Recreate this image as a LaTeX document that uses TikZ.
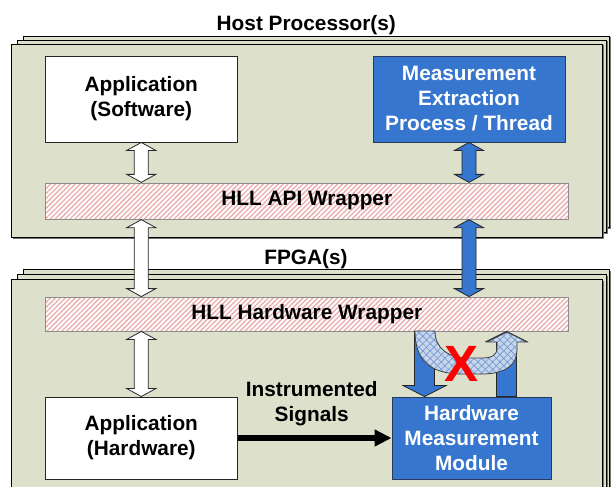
\documentclass[tikz,border=0pt]{standalone}
\usepackage{fontspec}
\setmainfont{Liberation Sans}
\usetikzlibrary{calc,arrows.meta,patterns.meta}
\definecolor{panel}{RGB}{221,225,203}
\definecolor{mblue}{RGB}{54,118,206}
\definecolor{mborder}{RGB}{40,60,90}
\definecolor{hatchpink}{RGB}{236,172,172}
\definecolor{ufill}{RGB}{198,214,236}
\definecolor{uline}{RGB}{118,152,210}
\newcommand\Upath{(415,331) .. controls (415,360) and (430,374) .. (462,374) -- (482,374) .. controls (505,374) and (517,365) .. (517,350) -- (517,342) -- (527,342) -- (507,332) -- (487,342) -- (497,342) -- (497,348) .. controls (497,355) and (492,358) .. (482,358) -- (468,358) .. controls (448,358) and (435,348) .. (435,331) -- cycle}
\begin{document}
\begin{tikzpicture}[x=1pt,y=-1pt,
  txt/.style={font=\fontsize{20.8}{25}\selectfont\bfseries, align=center},
  box/.style={txt, draw=black!85, line width=0.9, fill=white, inner sep=0},
  bbox/.style={box, fill=mblue, draw=mborder, text=white},
  wrap/.style={txt, draw=black!45, line width=0.8, inner sep=0,
    preaction={fill=white},
    pattern={Lines[angle=45,distance=3.5pt,line width=1.3pt]}, pattern color=hatchpink},
  layer/.style={fill=panel, draw=black, line width=0.9},
  lshadow/.style={fill=black!55},
  dbl/.style={draw=black!85, line width=0.8, line join=miter,
    to path={let \p1=(\tikztostart), \p2=(\tikztotarget) in
      (\x1,\y1) -- (\x1+14.5pt,\y1-8pt) -- (\x1+7pt,\y1-8pt) -- (\x1+7pt,\y2+8pt)
      -- (\x1+14.5pt,\y2+8pt) -- (\x1,\y2) -- (\x1-14.5pt,\y2+8pt) -- (\x1-7pt,\y2+8pt)
      -- (\x1-7pt,\y1-8pt) -- (\x1-14.5pt,\y1-8pt) -- cycle}},
  downarr/.style={draw=black!85, line width=0.8, fill=mblue,
    to path={let \p1=(\tikztostart), \p2=(\tikztotarget) in
      (\x1-10pt,\y1) -- (\x1-10pt,\y2+11pt) -- (\x1-21.5pt,\y2+11pt) -- (\x1,\y2)
      -- (\x1+21.5pt,\y2+11pt) -- (\x1+10pt,\y2+11pt) -- (\x1+10pt,\y1) -- cycle}},
  uparr/.style={draw=black!85, line width=0.8, fill=mblue,
    to path={let \p1=(\tikztostart), \p2=(\tikztotarget) in
      (\x1-10pt,\y1) -- (\x1-10pt,\y2-10pt) -- (\x1-20pt,\y2-10pt) -- (\x1,\y2)
      -- (\x1+20pt,\y2-10pt) -- (\x1+10pt,\y2-10pt) -- (\x1+10pt,\y1) -- cycle}}
]
\useasboundingbox (0,0) rectangle (611,487);
\clip (0,0) rectangle (611,487);
\fill[white] (0,0) rectangle (611,487);
% stacked panels
\foreach \l/\t/\r/\b in {23/36/609/227, 17/40/606/232, 11/44/602/237,
                         23/269/609/520, 17/274/606/525, 11/279/602/530} {
  \fill[lshadow] (\l+1.5,\t+1.5) rectangle (\r+1.5,\b+1.5);
  \filldraw[layer] (\l,\t) rectangle (\r,\b);
}
\node[txt, anchor=base] (hostlbl) at (306.3,31) {Host Processor(s)};
\node[txt, anchor=base] (fpgalbl) at (306,264.5) {FPGA(s)};
% boxes
\node[box, minimum width=191.5, minimum height=86] (appsw) at (141.3,99) {Application\\(Software)};
\node[bbox, minimum width=192, minimum height=86] (meas) at (469,99) {Measurement\\Extraction\\Process / Thread};
\node[wrap, minimum width=522.4, minimum height=36] (apiw) at (306.8,201) {HLL API Wrapper};
\node[wrap, minimum width=522.4, minimum height=34] (hww) at (306.8,314) {HLL Hardware Wrapper};
\node[box, minimum width=191.5, minimum height=82] (apphw) at (141.3,438) {Application\\(Hardware)};
\node[bbox, minimum width=159, minimum height=82] (hmm) at (471.5,438) {Hardware\\Measurement\\Module};
\node[txt] (sig) at (311.7,404) {Instrumented\\Signals};
% connector end points
\coordinate (a1) at (appsw.south |- apiw.north);
\coordinate (a2) at (appsw.south |- apiw.south);
\coordinate (a3) at (appsw.south |- hww.north);
\coordinate (a4) at (apphw.north |- hww.south);
\coordinate (b1) at (meas.south |- apiw.north);
\coordinate (b2) at (meas.south |- apiw.south);
\coordinate (b3) at (meas.south |- hww.north);
\path (hmm.north west) ++(33,0) coordinate (hmmA);
\path (hmm.north west) ++(115,0) coordinate (hmmB);
\coordinate (c1) at (hmmA |- hww.south);
\coordinate (c2) at (hmmB |- hww.south);
% block arrows
\draw[dbl, fill=white] (appsw.south) to (a1);
\draw[dbl, fill=white] (a2) to (a3);
\draw[dbl, fill=white] (a4) to (apphw.north);
\draw[dbl, fill=mblue] (meas.south) to (b1);
\draw[dbl, fill=mblue] (b2) to (b3);
\draw[downarr] (c1) to (hmmA);
\draw[uparr] (hmmB) to (c2);
% signal arrow
\draw[line width=5.5, -{Triangle[length=17pt,width=16pt]}] (apphw.east) -- (hmm.west);
% U-turn arrow
\fill[ufill] \Upath;
\fill[pattern={Lines[angle=45,distance=5.2pt,line width=0.7pt]}, pattern color=uline] \Upath;
\fill[pattern={Lines[angle=-45,distance=5.2pt,line width=0.7pt]}, pattern color=uline] \Upath;
\draw[black!75, line width=0.8, line join=miter] \Upath;
\node[font=\fontsize{51}{51}\selectfont\bfseries, text=red, inner sep=0] (xmark) at (461.5,364) {X};
\end{tikzpicture}
\end{document}
